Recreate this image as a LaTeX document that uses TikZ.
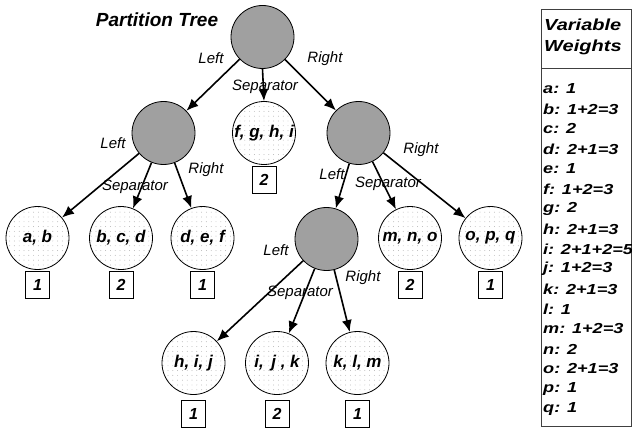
\documentclass[tikz,border=0pt]{standalone}
\usepackage{fontspec}
\setmainfont{Liberation Sans}
\newfontfamily\tablefont[FakeStretch=1.25]{Liberation Sans}
\usetikzlibrary{patterns.meta,arrows.meta}
\definecolor{nodegray}{RGB}{160,160,160}
\definecolor{dotgray}{RGB}{170,170,170}
\tikzset{
  inner/.style={circle,draw,line width=0.8pt,fill=nodegray,minimum size=63pt,inner sep=0pt},
  leaf/.style={circle,draw,line width=0.8pt,pattern={Dots[distance=4.8pt,radius=0.45pt]},pattern color=dotgray,minimum size=63pt,inner sep=0pt,font=\bfseries\itshape\fontsize{17}{17}\selectfont},
  wbox/.style={draw,line width=0.8pt,minimum width=24pt,minimum height=27pt,inner sep=0pt,anchor=north,font=\bfseries\itshape\fontsize{16}{16}\selectfont},
  elab/.style={font=\itshape\fontsize{15}{15}\selectfont,inner sep=0pt},
  edge/.style={-{Latex[length=12pt,width=10pt]},line width=1.6pt},
  ttext/.style={anchor=west,inner sep=0pt,font=\tablefont\bfseries\itshape\fontsize{14.5}{14.5}\selectfont},
  htext/.style={anchor=west,inner sep=0pt,font=\tablefont\bfseries\itshape\fontsize{16}{16}\selectfont}
}
\begin{document}
\begin{tikzpicture}[x=1pt,y=-1pt]
\useasboundingbox (0,0) rectangle (632,433);
\node[font=\bfseries\itshape\fontsize{19}{19}\selectfont,inner sep=0pt] (title) at (157,20) {Partition Tree};
% internal nodes
\node[inner] (root) at (262.5,37) {};
\node[inner] (L) at (163.5,133) {};
\node[inner] (R) at (358.5,133) {};
\node[inner] (LL) at (326.5,239) {};
% leaves
\node[leaf] (S) at (264,133) {f, g, h, i};
\node[leaf] (ab) at (37.5,238) {a, b};
\node[leaf] (bcd) at (121,238) {b, c, d};
\node[leaf] (def) at (202.5,238) {d, e, f};
\node[leaf] (mno) at (410,238) {m, n, o};
\node[leaf] (opq) at (490.5,238) {o, p, q};
\node[leaf] (hij) at (193.5,363) {h, i, j};
\node[leaf] (ijk) at (277,363) {i,\, j , k};
\node[leaf] (klm) at (357.5,363) {k, l, m};
% weight boxes
\node[wbox] (wS) at ([yshift=-1pt]S.south) {2};
\node[wbox] (wab) at ([yshift=-1pt]ab.south) {1};
\node[wbox] (wbcd) at ([yshift=-1pt]bcd.south) {2};
\node[wbox] (wdef) at ([yshift=-1pt]def.south) {1};
\node[wbox] (wmno) at ([yshift=-1pt]mno.south) {2};
\node[wbox] (wopq) at ([yshift=-1pt]opq.south) {1};
\node[wbox] (whij) at ([yshift=-5pt]hij.south) {1};
\node[wbox] (wijk) at ([yshift=-5pt]ijk.south) {2};
\node[wbox] (wklm) at ([yshift=-5pt]klm.south) {1};
% edges
\draw[edge] (root) -- (L);
\draw[edge] (root.south) -- (S.north);
\draw[edge] (root) -- (R);
\draw[edge] (L) -- (ab);
\draw[edge] (L) -- (bcd);
\draw[edge] (L) -- (def);
\draw[edge] (R) -- (LL);
\draw[edge] (R) -- (mno);
\draw[edge] (R) -- (opq);
\draw[edge] (LL) -- (hij);
\draw[edge] (LL) -- (ijk);
\draw[edge] (LL) -- (klm);
% edge labels
\node[elab] (l1) at (211,58) {Left};
\node[elab] (s1) at (265,87) {Separator};
\node[elab] (r1) at (325,59) {Right};
\node[elab] (l2) at (113,143) {Left};
\node[elab] (s2) at (135,187) {Separator};
\node[elab] (r2) at (206,170) {Right};
\node[elab] (l3) at (332,174) {Left};
\node[elab] (s3) at (388,184) {Separator};
\node[elab] (r3) at (421,150) {Right};
\node[elab] (l4) at (276,250) {Left};
\node[elab] (s4) at (300,293) {Separator};
\node[elab] (r4) at (363,278) {Right};
% table
\draw[line width=0.9pt,black!75] (541,9) rectangle (631.5,426);
\draw[line width=0.9pt,black!75] (541,68) -- (631.5,68);
\node[htext] (h1) at (544,25) {Variable};
\node[htext] (h2) at (544,47) {Weights};
\foreach \t [count=\i from 0] in {a: 1, b: 1+2=3, c: 2, d: 2+1=3, e: 1, f: 1+2=3, g: 2, h: 2+1=3, i: 2+1+2=5, j: 1+2=3, k: 2+1=3, l: 1, m: 1+2=3, n: 2, o: 2+1=3, p: 1, q: 1}
  \node[ttext] (w\i) at (543,89+20*\i) {\t};
\end{tikzpicture}
\end{document}
